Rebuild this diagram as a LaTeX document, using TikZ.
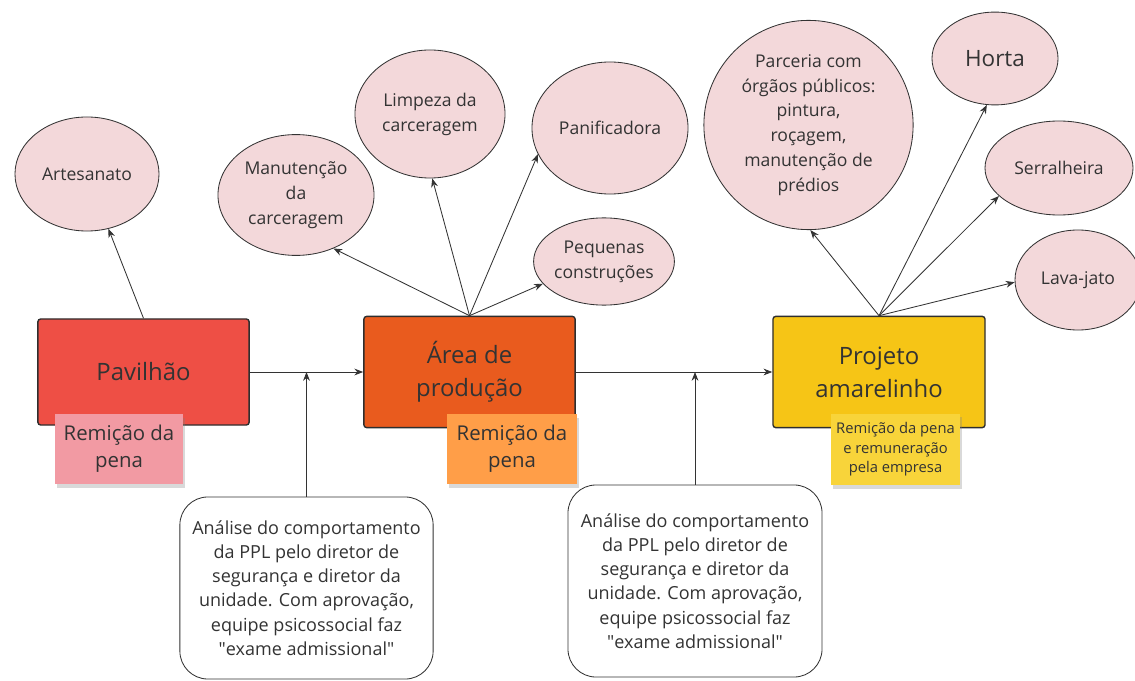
\documentclass[tikz,border=0pt]{standalone}
\usepackage{fontspec}
\setmainfont{Open Sans}
\usepackage{tikz}
\usetikzlibrary{shapes.geometric,arrows.meta,shadows}
\definecolor{ink}{HTML}{333333}
\definecolor{blush}{HTML}{F3D8DA}
\definecolor{redbox}{HTML}{EE4F45}
\definecolor{orangebox}{HTML}{E95B1E}
\definecolor{yellowbox}{HTML}{F6C516}
\definecolor{pinknote}{HTML}{F29AA3}
\definecolor{orangenote}{HTML}{FF9E48}
\definecolor{yellownote}{HTML}{F8D43A}

\begin{document}
\begin{tikzpicture}[x=0.025cm,y=-0.025cm,
  every node/.style={text=ink,align=center},
  blob/.style={ellipse,draw=ink,fill=blush,line width=0.6pt,inner sep=0pt,
    font=\fontsize{12.5}{17.7}\selectfont},
  stage/.style={draw=ink!90!black,rounded corners=2pt,line width=1pt,
    font=\fontsize{17}{23.4}\selectfont},
  note/.style={inner sep=0pt,font=\fontsize{14.5}{19}\selectfont,
    drop shadow={shadow xshift=0.4mm,shadow yshift=-0.9mm,opacity=0.3}},
  memo/.style={draw=ink,fill=white,rounded corners=0.7cm,line width=0.6pt,
    font=\fontsize{12.8}{17.2}\selectfont},
  arr/.style={draw=ink,line width=0.6pt,-{Stealth[length=2.2mm,width=1.7mm]}}]
\useasboundingbox (0,0) rectangle (1135,681);

\node[stage,fill=redbox,minimum width=5.28cm,minimum height=2.65cm] (pav) at (143.5,372) {Pavilhão};
\node[stage,fill=orangebox,minimum width=5.28cm,minimum height=2.78cm] (area) at (469.5,372) {Área de\\produção};
\node[stage,fill=yellowbox,minimum width=5.3cm,minimum height=2.78cm] (proj) at (879,372) {Projeto\\amarelinho};

\node[note,fill=pinknote,minimum width=3.2cm,minimum height=1.75cm] (nota1) at (119,449) {Remição da\\pena};
\node[note,fill=orangenote,minimum width=3.25cm,minimum height=1.75cm] (nota2) at (512,449) {Remição da\\pena};
\node[note,fill=yellownote,minimum width=3.22cm,minimum height=1.78cm,
  font=\fontsize{10.5}{13.8}\selectfont] (nota3) at (895.5,449.5) {Remição da pena\\e remuneração\\pela empresa};

\node[memo,minimum width=6.33cm,minimum height=4.55cm] (memo1) at (306.5,588)
  {Análise do comportamento\\da PPL pelo diretor de\\segurança e diretor da\\unidade. Com aprovação,\\equipe psicossocial faz\\\textquotedbl exame admissional\textquotedbl};
\node[memo,minimum width=6.35cm,minimum height=4.8cm] (memo2) at (695,581)
  {Análise do comportamento\\da PPL pelo diretor de\\segurança e diretor da\\unidade. Com aprovação,\\equipe psicossocial faz\\\textquotedbl exame admissional\textquotedbl};

\node[blob,minimum width=3.6cm,minimum height=2.85cm] (art) at (87,174) {Artesanato};
\node[blob,minimum width=3.9cm,minimum height=3.02cm] (manut) at (296,195) {Manutenção\\da\\carceragem};
\node[blob,minimum width=3.75cm,minimum height=3.2cm] (limp) at (430,114) {Limpeza da\\carceragem};
\node[blob,minimum width=3.9cm,minimum height=3.3cm] (panif) at (610,128) {Panificadora};
\node[blob,minimum width=3.2cm,minimum height=2.18cm] (peq) at (604,261.5) {Pequenas\\construções};
\node[blob,minimum width=5.23cm,minimum height=5.23cm] (parc) at (808.5,125)
  {Parceria com\\órgãos públicos:\\pintura,\\roçagem,\\manutenção de\\prédios};
\node[blob,minimum width=3.15cm,minimum height=2.32cm,font=\fontsize{16}{19}\selectfont] (horta) at (995,58.5) {Horta};
\node[blob,minimum width=3.7cm,minimum height=2.35cm] (serra) at (1059,168) {Serralheira};
\node[blob,minimum width=3.15cm,minimum height=2.5cm] (lava) at (1078,280) {Lava-jato};

\coordinate (j1) at (memo1.north |- pav.east);
\coordinate (j2) at (memo2.north |- area.east);

\draw[arr] (pav.east) -- (area.west);
\draw[arr] (area.east) -- (proj.west);
\draw[arr] (memo1.north) -- (j1);
\draw[arr] (memo2.north) -- (j2);

\draw[arr] (pav.north) -- (art);
\foreach \alvo/\ang in {manut/-55,limp/-88,panif/200,peq/200}
{       \draw[arr] (area.north) -- (\alvo.\ang);
}
\foreach \alvo/\ang in {parc/-89,horta/-100,serra/205,lava/182}
{       \draw[arr] (proj.north) -- (\alvo.\ang);
}
\end{tikzpicture}
\end{document}
